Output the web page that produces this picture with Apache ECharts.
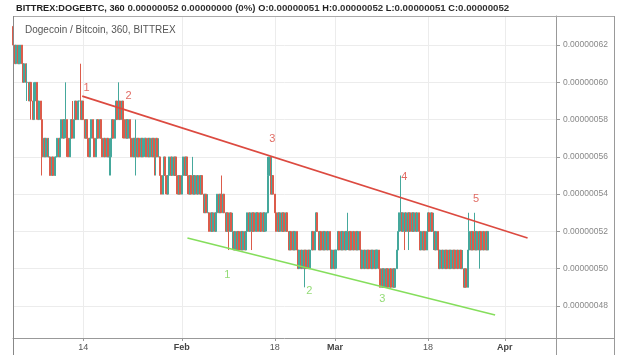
<!DOCTYPE html>
<html>
<head>
<meta charset="utf-8">
<script src="https://cdn.jsdelivr.net/npm/echarts@6/dist/echarts.min.js"></script>
<style>html,body{margin:0;padding:0;background:#fff;}#c{width:640px;height:355px;}</style>
</head>
<body>
<div id="c"></div>
<script>
// ---- DATA (prices in units of 0.00000001 BTC), 6h candles from 2018-01-01 06:00 UTC ----
const firstCandle = '2018-01-01T06:00Z';
const candleHours = 6;
const opens = [
63,62,61,62,61,61,62,61,60,61, 60,60,59,60,59,58,59,60,59,58,
59,58,56,57,56,57,56,56,55,56, 55,56,56,57,56,57,58,57,58,58,
57,56,57,58,57,58,59,58,59,59, 58,59,58,57,58,57,56,57,58,57,
56,57,58,57,58,57,56,57,56,57, 56,56,57,58,57,58,59,58,59,58,
59,58,57,58,57,58,57,56,57,56, 57,56,57,56,57,56,57,57,56,57,
56,57,56,57,56,57,56,56,55,54, 55,56,55,54,55,56,55,56,55,56,
55,54,55,54,55,56,55,56,55,54, 55,54,55,54,55,54,55,54,55,54,
53,54,53,53,52,53,52,53,52,53, 54,53,54,53,54,53,52,53,52,53,
52,52,51,52,51,52,51,52,51,52, 51,52,53,52,53,52,53,52,53,53,
52,53,52,53,52,53,53,55,56,54, 55,54,53,52,53,52,53,52,53,52,
53,52,51,52,51,52,51,52,51,50, 51,50,51,50,51,50,51,50,51,52,
51,52,53,52,51,52,51,52,51,52, 51,52,51,50,51,50,51,51,52,51,
52,51,52,51,52,52,51,52,51,52, 51,52,51,52,51,50,51,50,51,50,
51,50,51,50,51,50,51,51,50,49, 50,49,50,49,50,49,50,49,50,49,
50,51,52,53,53,52,53,52,53,52, 53,52,53,52,53,52,53,52,51,52,
51,52,51,52,53,52,53,52,52,51, 52,51,50,51,50,51,50,51,50,51,
50,51,50,51,50,51,50,51,50,50, 49,50,49,51,52,51,52,51,52,51,
52,51,52,51,52,51,52,51
];
const closes = [
62,61,62,61,61,62,61,60,61,60, 60,59,60,59,58,59,60,59,58,59,
58,56,57,56,57,56,56,55,56,55, 56,56,57,56,57,58,57,58,58,57,
56,57,58,57,58,59,58,59,59,58, 59,58,57,58,57,56,57,58,57,56,
57,58,57,58,57,56,57,56,57,56, 56,57,58,57,58,59,58,59,58,59,
58,57,58,57,58,57,56,57,56,57, 56,57,56,57,56,57,57,56,57,56,
57,56,57,56,57,56,56,55,54,55, 56,55,54,55,56,55,56,55,56,55,
54,55,54,55,56,55,56,55,54,55, 54,55,54,55,54,55,54,55,54,53,
54,53,53,52,53,52,53,52,53,54, 53,54,53,54,53,52,53,52,53,52,
52,51,52,51,52,51,52,51,52,51, 52,53,52,53,52,53,52,53,53,52,
53,52,53,52,53,53,55,56,54,55, 54,53,52,53,52,53,52,53,52,53,
52,51,52,51,52,51,52,51,50,51, 50,51,50,51,50,51,50,51,52,51,
52,53,52,51,52,51,52,51,52,51, 52,51,50,51,50,51,51,52,51,52,
51,52,51,52,52,51,52,51,52,51, 52,51,52,51,50,51,50,51,50,51,
50,51,50,51,50,51,51,50,49,50, 49,50,49,50,49,50,49,50,49,50,
51,52,53,53,52,53,52,53,52,53, 52,53,52,53,52,53,52,51,52,51,
52,51,52,53,52,53,52,52,51,52, 51,50,51,50,51,50,51,50,51,50,
51,50,51,50,51,50,51,50,50,49, 50,49,51,52,51,52,51,52,51,52,
51,52,51,52,51,52,51,52
];
const lows = [
62,61,61,61,61,61,61,60,60,60, 59,59,59,58,58,58,59,58,58,58,
58,55,56,56,56,56,56,55,55,55, 55,55,56,56,56,57,57,57,57,56,
56,56,57,57,57,58,58,58,58,58, 58,58,57,57,56,56,56,57,57,56,
56,57,57,57,57,56,56,56,56,56, 55,55,57,57,57,58,58,58,58,58,
57,57,57,57,57,57,56,56,56,55, 56,56,56,56,56,56,56,56,56,56,
56,56,56,55,55,56,56,55,54,54, 55,54,54,54,55,55,55,55,55,54,
54,54,54,54,55,55,55,54,54,54, 54,54,54,54,54,54,54,54,54,53,
53,53,53,52,52,52,52,52,52,53, 53,53,53,53,53,52,52,51,52,52,
51,51,51,51,51,51,51,51,51,51, 51,52,52,52,51,52,52,52,52,52,
52,52,52,52,52,52,53,55,54,54, 54,53,52,52,52,52,52,52,52,52,
52,51,51,51,51,51,51,51,50,50, 50,50,50,49,50,50,50,50,51,51,
51,52,52,51,51,51,51,51,51,51, 51,51,50,50,50,50,50,51,51,51,
51,51,51,51,51,51,51,51,51,51, 51,51,51,51,50,50,50,50,50,50,
50,50,50,50,50,50,50,50,49,49, 49,49,49,49,49,49,49,49,49,49,
50,51,52,52,52,52,51,52,52,51, 52,52,52,52,52,52,52,51,51,51,
51,51,51,52,52,52,52,51,51,51, 51,50,50,50,50,50,50,50,50,50,
50,50,50,50,50,50,50,50,50,49, 49,49,49,51,51,51,51,51,51,51,
51,50,51,51,51,51,51,51
];
const highs = [
63,62,62,62,62,62,62,61,61,61, 61,60,60,60,59,60,60,60,59,59,
59,58,57,57,57,57,57,56,56,56, 56,56,57,57,57,58,58,58,60,58,
57,57,58,59,58,59,59,59,59,61, 59,59,58,58,58,57,57,58,58,57,
57,58,58,58,58,57,57,57,57,57, 57,57,58,58,58,59,59,60,59,59,
59,58,58,58,58,58,57,57,57,58, 57,57,57,57,57,57,57,57,57,57,
57,57,57,57,57,57,57,56,55,55, 56,56,55,55,56,56,56,56,56,56,
55,55,55,55,56,56,56,56,55,55, 55,56,55,55,55,55,55,55,55,54,
54,54,54,53,53,53,53,53,53,54, 54,54,55,54,54,53,53,53,53,53,
53,52,52,52,52,52,52,52,52,52, 52,53,53,53,53,53,53,53,53,53,
53,53,53,53,53,53,56,56,56,56, 55,54,54,53,53,53,53,53,53,53,
53,52,52,52,52,52,52,52,51,51, 51,51,51,51,51,51,51,51,52,52,
52,53,53,52,52,52,52,52,52,52, 52,52,51,51,51,51,51,52,52,52,
52,52,52,52,53,52,52,52,52,52, 52,52,52,52,51,51,51,51,51,51,
51,51,51,51,51,51,51,51,50,50, 50,50,50,50,50,50,50,50,50,50,
51,52,53,55,53,53,53,53,53,53, 53,53,53,53,53,53,53,52,52,52,
52,52,52,53,53,53,53,53,52,52, 52,51,51,51,51,51,51,51,51,51,
51,51,51,51,51,51,51,51,51,50, 50,50,51,53,52,52,52,53,52,52,
52,52,52,52,52,52,52,52
];

// axis ticks
const timeTicks = ['2018-01-14T00:00Z','2018-02-01T00:00Z','2018-02-18T00:00Z','2018-03-01T00:00Z','2018-03-18T00:00Z','2018-04-01T00:00Z'];
const timeTickLabels = ['14','Feb','18','Mar','18','Apr'];
const timeTickIsMonth = [false,true,false,true,false,true];
const priceTicks = [48,50,52,54,56,58,60,62];
const xRange = ['2018-01-01T04:00Z','2018-04-10T08:40Z'];
const yRange = [46.28, 63.56];

// annotations
const resistTimes = ['2018-01-13T19:30Z','2018-04-05T04:00Z'];
const resistValues = [59.26, 51.65];
const supportTimes = ['2018-02-02T00:45Z','2018-03-30T05:45Z'];
const supportValues = [51.65, 47.51];
const redTags = ['1','2','3','4','5'];
const redTagTimes = ['2018-01-14T14:20Z','2018-01-22T06:15Z','2018-02-17T13:00Z','2018-03-13T15:10Z','2018-03-26T18:30Z'];
const redTagValues = [59.69, 59.26, 56.96, 54.92, 53.74];
const greenTags = ['1','2','3'];
const greenTagTimes = ['2018-02-09T08:00Z','2018-02-24T07:00Z','2018-03-09T14:40Z'];
const greenTagValues = [49.66, 48.80, 48.37];

// ---- build ----
const t0 = Date.parse(firstCandle);
const stepMs = candleHours * 3600 * 1000;
const candleData = opens.map((o, i) => [t0 + i * stepMs, o, closes[i], lows[i], highs[i]]);
const tickTs = timeTicks.map(s => Date.parse(s));
const FONT = "'Liberation Sans', Arial, sans-serif";
const UP = '#45a89c', DOWN = '#dc5c4b';
const chevron = 'path://M5,0 L10,9 L8.6,10 L5,3.6 L1.4,10 L0,9 Z';

const chart = echarts.init(document.getElementById('c'), null, {renderer: 'canvas'});
chart.setOption({
  animation: false,
  backgroundColor: '#ffffff',
  textStyle: {fontFamily: FONT},
  title: [
    {
      left: 11, top: -2,
      text: '{b|BITTREX:DOGEBTC, 360} {r|0.00000052 0.00000000 (0%)} {b|O:}{r|0.00000051} {b|H:}{r|0.00000052} {b|L:}{r|0.00000051} {b|C:}{r|0.00000052}',
      textStyle: {
        fontSize: 9.6, lineHeight: 11,
        rich: {
          b: {fontFamily: FONT, fontSize: 9.2, lineHeight: 11, fontWeight: 'bold', color: '#222'},
          r: {fontFamily: FONT, fontSize: 9.7, lineHeight: 11, color: '#333'}
        }
      }
    },
    {
      left: 20, top: 19,
      text: 'Dogecoin / Bitcoin, 360, BITTREX',
      textStyle: {fontFamily: FONT, fontSize: 10, lineHeight: 12, fontWeight: 'normal', color: '#555'}
    }
  ],
  grid: {left: 13, right: 84, top: 16, bottom: 17, containLabel: false},
  xAxis: {
    type: 'value',
    min: Date.parse(xRange[0]), max: Date.parse(xRange[1]),
    axisLine: {show: true, lineStyle: {color: '#999', width: 1}},
    axisTick: {show: true, customValues: tickTs, length: 3, lineStyle: {color: '#999'}},
    splitLine: {show: false},
    axisLabel: {
      customValues: tickTs, margin: 5, fontSize: 9, color: '#555', fontFamily: FONT,
      formatter: function (v) {
        let best = 0;
        tickTs.forEach((t, i) => { if (Math.abs(t - v) < Math.abs(tickTs[best] - v)) best = i; });
        return timeTickIsMonth[best] ? '{m|' + timeTickLabels[best] + '}' : timeTickLabels[best];
      },
      rich: {m: {fontSize: 9, fontWeight: 'bold', color: '#444', fontFamily: FONT}}
    }
  },
  yAxis: {
    type: 'value', position: 'right',
    min: yRange[0], max: yRange[1],
    axisLine: {show: true, lineStyle: {color: '#999', width: 1}},
    axisTick: {show: true, customValues: priceTicks, length: 4, lineStyle: {color: '#999'}},
    splitLine: {show: false},
    axisLabel: {
      customValues: priceTicks, margin: 7, fontSize: 8.5, color: '#888', fontFamily: FONT,
      formatter: v => (v / 1e8).toFixed(8)
    }
  },
  graphic: [
    {type: 'line', silent: true, z: 100, shape: {x1: 13, y1: 16.5, x2: 615, y2: 16.5}, style: {stroke: '#aaa', lineWidth: 1}},
    {type: 'line', silent: true, z: 100, shape: {x1: 556, y1: 338.5, x2: 615, y2: 338.5}, style: {stroke: '#999', lineWidth: 1}},
    {type: 'line', silent: true, z: 100, shape: {x1: 13.5, y1: 16, x2: 13.5, y2: 355}, style: {stroke: '#888', lineWidth: 1}},
    {type: 'line', silent: true, z: 100, shape: {x1: 556.5, y1: 338, x2: 556.5, y2: 355}, style: {stroke: '#999', lineWidth: 1}},
    {type: 'line', silent: true, z: 100, shape: {x1: 614.5, y1: 16, x2: 614.5, y2: 355}, style: {stroke: '#999', lineWidth: 1}}
  ],
  series: [
    {
      type: 'candlestick',
      data: candleData,
      encode: {x: 0, y: [1, 2, 3, 4]},
      barWidth: 1.5,
      z: 2,
      itemStyle: {color: UP, color0: DOWN, borderColor: UP, borderColor0: DOWN, borderWidth: 1},
      markLine: {
        silent: true, z: 0, symbol: 'none', animation: false,
        label: {show: false},
        lineStyle: {color: '#ececec', width: 1, type: 'solid'},
        data: tickTs.map(t => ({xAxis: t})).concat(priceTicks.map(p => ({yAxis: p})))
      }
    },
    {
      type: 'scatter',
      z: 5,
      symbolSize: 0,
      data: redTags.map((s, i) => [Date.parse(redTagTimes[i]), redTagValues[i], s]),
      label: {show: true, position: 'inside', formatter: p => p.value[2], color: '#d9473d', fontSize: 11, fontFamily: FONT},
      markLine: {
        silent: true, z: 5, animation: false,
        symbol: ['none', chevron], symbolSize: [0, 10],
        label: {show: false},
        lineStyle: {color: '#dc4a40', width: 1.6, type: 'solid'},
        data: [[{coord: [Date.parse(resistTimes[0]), resistValues[0]]}, {coord: [Date.parse(resistTimes[1]), resistValues[1]]}]]
      }
    },
    {
      type: 'scatter',
      z: 5,
      symbolSize: 0,
      data: greenTags.map((s, i) => [Date.parse(greenTagTimes[i]), greenTagValues[i], s]),
      label: {show: true, position: 'inside', formatter: p => p.value[2], color: '#78d254', fontSize: 11, fontFamily: FONT},
      markLine: {
        silent: true, z: 5, animation: false,
        symbol: ['none', chevron], symbolSize: [0, 10],
        label: {show: false},
        lineStyle: {color: '#85de5c', width: 1.6, type: 'solid'},
        data: [[{coord: [Date.parse(supportTimes[0]), supportValues[0]]}, {coord: [Date.parse(supportTimes[1]), supportValues[1]]}]]
      }
    }
  ]
});
</script>
</body>
</html>
